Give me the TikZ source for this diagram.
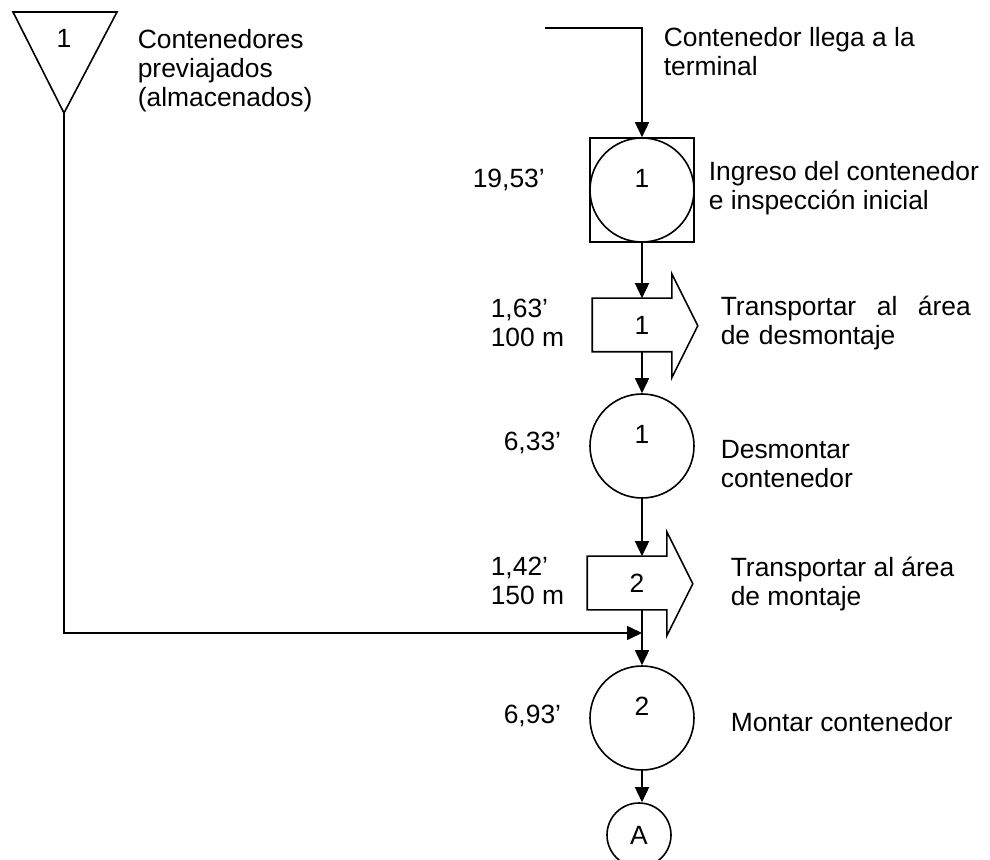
\documentclass[tikz,border=0pt]{standalone}
\usepackage{fontspec}
\setmainfont{Liberation Sans}
\usetikzlibrary{arrows.meta}
\begin{document}
\begin{tikzpicture}[x=0.5pt,y=-0.5pt,line width=0.8pt,
  font=\fontsize{13.2pt}{14.5pt}\selectfont,
  flecha/.style={-{Triangle[length=7.5pt,width=7pt]}},
  oper/.style={draw,circle,minimum size=52pt,inner sep=0pt},
  transp/.style={minimum width=39pt,minimum height=26pt,inner sep=0pt},
  txt/.style={anchor=west,align=left,inner sep=0pt}]
\useasboundingbox (0,0) rectangle (990,860);

% almacenamiento
\coordinate (a1) at (13,12);
\coordinate (a2) at (117,12);
\coordinate (alm) at (64,113);
\draw (a1) -- (a2) -- (alm) -- cycle;
\node (n0) at (64,38) {1};
\node[txt] (t0) at (137,71) {Contenedores\\previajados\\(almacenados)};

% llegada e inspeccion
\coordinate (lleg) at (545,28);
\node[txt] (t1) at (663,52) {Contenedor llega a la\\terminal};
\node[draw,minimum size=52pt,inner sep=0pt] (insbox) at (642,190) {};
\node[oper,label={[yshift=6pt]center:1}] (ins) at (642,190) {};
\node[txt] (v1) at (472,180) {19,53’};
\node[txt] (t2) at (708,188) {Ingreso del contenedor\\e inspección inicial};
\draw[flecha] (lleg) -| (insbox.north);

% transporte 1
\node[transp,label={[xshift=5pt]center:1}] (tr1) at (632,325) {};
\draw (tr1.north east) -- (tr1.north west) -- (tr1.south west) -- (tr1.south east)
  -- ++(0,26) -- ++(26,-52) -- ++(-26,-52) -- cycle;
\node[txt] (v2) at (490,323) {1,63’\\100 m};
\node[txt,text width=125pt] (t3) at (720,323) {Transportar\hfill al\hfill área\\de desmontaje};
\draw[flecha] (insbox.south) -- (insbox.south |- tr1.north);

% desmontar
\node[oper,label={[yshift=6pt]center:1}] (o1) at (642,446) {};
\node[txt] (v3) at (503,443) {6,33’};
\node[txt] (t4) at (720,464) {Desmontar\\contenedor};
\draw[flecha] (tr1.south -| insbox) -- (o1.north);

% transporte 2
\node[transp,label={[xshift=5pt]center:2}] (tr2) at (627,583) {};
\draw (tr2.north east) -- (tr2.north west) -- (tr2.south west) -- (tr2.south east)
  -- ++(0,26) -- ++(26,-52) -- ++(-26,-52) -- cycle;
\node[txt] (v4) at (490,581) {1,42’\\150 m};
\node[txt] (t5) at (730,584) {Transportar al área\\de montaje};
\draw[flecha] (o1.south) -- (o1.south |- tr2.north);

% montar
\coordinate (junta) at (642,633);
\node[oper,label={[yshift=6pt]center:2}] (o2) at (642,718) {};
\node[txt] (v5) at (503,716) {6,93’};
\node[txt] (t6) at (730,722) {Montar contenedor};
\draw[flecha] (tr2.south -| o1) -- (o2.north);
\draw[flecha] (alm) |- (junta);

\node[draw,circle,minimum size=32pt,inner sep=0pt] (fin) at (639,835) {A};
\draw[flecha] (o2.south) -- (o2.south |- fin.north);
\end{tikzpicture}
\end{document}
